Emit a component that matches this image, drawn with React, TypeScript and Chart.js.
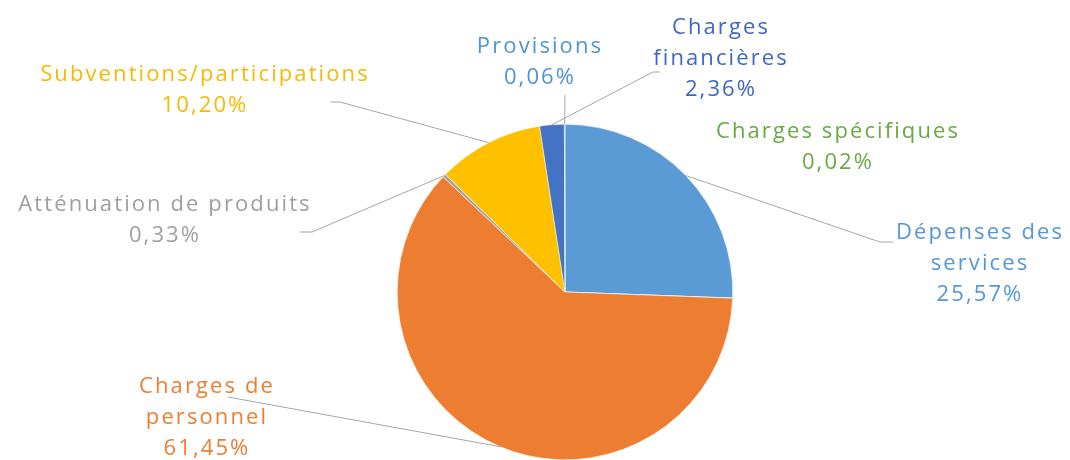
import React, { useEffect, useRef } from "react";
import { Chart, registerables } from "chart.js";

Chart.register(...registerables);

// Data
const categories: string[] = [
  "Dépenses des\nservices",
  "Charges spécifiques",
  "Charges de\npersonnel",
  "Atténuation de produits",
  "Subventions/participations",
  "Charges\nfinancières",
  "Provisions",
];
const shares: number[] = [25.57, 0.02, 61.45, 0.33, 10.2, 2.36, 0.06];

// Styles
const sliceColors = ["#5B9BD5", "#70AD47", "#ED7D31", "#A5A5A5", "#FFC000", "#4472C4", "#5B9BD5"];
const textColors = ["#5596d6", "#6aa843", "#ED7D31", "#9f9f9f", "#F7BA00", "#3f66c2", "#4f93d6"];

// Label layout: centre x, first line centre y, leader path (from slice edge to these points)
const labelLayout: { x: number; y: number; path: number[][] | null }[] = [
  { x: 980, y: 233, path: [[880, 242], [893, 242]] },
  { x: 838, y: 132, path: null },
  { x: 207, y: 387, path: [[228, 397]] },
  { x: 165, y: 205, path: [[312, 232], [300, 232]] },
  { x: 205, y: 75, path: [[340, 102], [330, 102]] },
  { x: 721, y: 28, path: [[653, 72], [660, 72]] },
  { x: 540, y: 47, path: [[565, 95]] },
];
const lineGap = 31;

const fmt = (v: number) => v.toFixed(2).replace(".", ",") + "%";

const labelPlugin = {
  id: "pieLabels",
  afterDatasetsDraw(chart: any) {
    const ctx = chart.ctx as CanvasRenderingContext2D;
    const meta = chart.getDatasetMeta(0);
    ctx.save();
    meta.data.forEach((arc: any, i: number) => {
      const p = arc.getProps(["x", "y", "startAngle", "endAngle", "outerRadius"], true);
      const mid = (p.startAngle + p.endAngle) / 2;
      const ex = p.x + Math.cos(mid) * p.outerRadius;
      const ey = p.y + Math.sin(mid) * p.outerRadius;
      const lay = labelLayout[i];
      if (lay.path) {
        ctx.beginPath();
        ctx.strokeStyle = "#a6a6a6";
        ctx.lineWidth = 1;
        ctx.moveTo(ex, ey);
        lay.path.forEach(([px, py]) => ctx.lineTo(px, py));
        ctx.stroke();
      }
      const lines = [...categories[i].split("\n"), fmt(shares[i])];
      ctx.fillStyle = textColors[i];
      ctx.font = '500 22px "Open Sans"';
      (ctx as any).letterSpacing = "2.1px";
      ctx.textAlign = "center";
      ctx.textBaseline = "middle";
      lines.forEach((t, k) => ctx.fillText(t, lay.x, lay.y + k * lineGap));
    });
    ctx.restore();
  },
};

export default function App() {
  const ref = useRef<HTMLCanvasElement | null>(null);
  useEffect(() => {
    if (!ref.current) return;
    const chart = new Chart(ref.current, {
      type: "pie",
      data: {
        labels: categories,
        datasets: [
          {
            data: shares,
            backgroundColor: sliceColors,
            borderColor: "#ffffff",
            borderWidth: 0.5,
          },
        ],
      },
      options: {
        responsive: false,
        animation: false,
        layout: { padding: { top: 124, bottom: 0, left: 397, right: 337 } },
        plugins: { legend: { display: false }, tooltip: { enabled: false } },
      },
      plugins: [labelPlugin],
    });
    return () => chart.destroy();
  }, []);
  return (
    <div style={{ position: "absolute", left: 0, top: 0, width: 1070, height: 460, background: "#fff" }}>
      <canvas ref={ref} width={1070} height={460} />
    </div>
  );
}
